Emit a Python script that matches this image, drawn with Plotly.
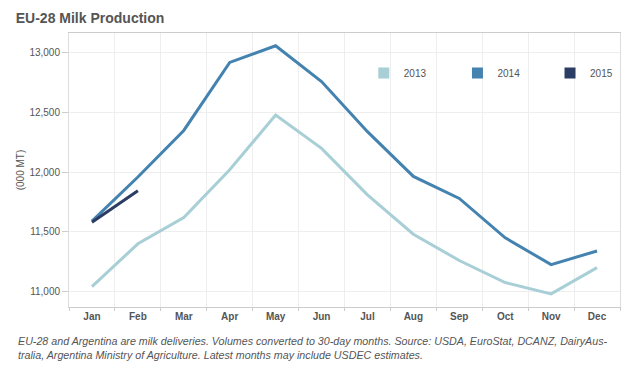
import plotly.graph_objects as go

months = ["Jan", "Feb", "Mar", "Apr", "May", "Jun", "Jul", "Aug", "Sep", "Oct", "Nov", "Dec"]
y2013 = [11040, 11400, 11620, 12020, 12480, 12200, 11810, 11480, 11260, 11075, 10980, 11200]
y2014 = [11590, 11960, 12350, 12920, 13060, 12760, 12340, 11965, 11780, 11450, 11225, 11340]
y2015 = [11580, 11845]
series = [("2013", y2013, "#a8cfd6"), ("2014", y2014, "#4483b0"), ("2015", y2015, "#2b3d64")]
legend_ids = ["legend", "legend2", "legend3"]
legend_x = [0.535, 0.705, 0.873]

fig = go.Figure()
for name, vals, col in series:
    fig.add_trace(go.Scatter(x=months[:len(vals)], y=vals, mode="lines", name=name,
                             line=dict(color=col, width=3), showlegend=False))
for (name, vals, col), lid in zip(series, legend_ids):
    fig.add_trace(go.Scatter(x=[months[0]], y=[None], mode="markers", name=name, legend=lid,
                             marker=dict(symbol="square", size=11, color=col)))

leg_common = dict(y=0.854, xanchor="left", yanchor="middle", itemwidth=30,
                  font=dict(size=10, color="#555"), bgcolor="rgba(0,0,0,0)")

fig.update_layout(
    width=630, height=368,
    margin=dict(l=69, r=10, t=33, b=61),
    paper_bgcolor="white", plot_bgcolor="white",
    font=dict(family="Arial, Liberation Sans, sans-serif", color="#555", size=10),
    title=dict(text="<b>EU-28 Milk Production</b>", x=0.025, xanchor="left", y=0.95, yanchor="middle",
               font=dict(size=14, color="#555")),
    legend=dict(x=legend_x[0], **leg_common),
    legend2=dict(x=legend_x[1], **leg_common),
    legend3=dict(x=legend_x[2], **leg_common),
    xaxis=dict(type="category", range=[-0.5, 11.5], tickson="boundaries", ticks="outside",
               ticklen=3, tickcolor="#ccc", showgrid=True, gridcolor="#eee",
               showline=True, linecolor="#ccc", mirror=True,
               tickfont=dict(size=10, color="#555", family="Arial, Liberation Sans, sans-serif"),
               tickprefix="<b>", ticksuffix="</b>"),
    yaxis=dict(range=[10870, 13167], tickvals=[11000, 11500, 12000, 12500, 13000],
               tickformat=",d", ticks="outside", ticklen=6, tickcolor="#ccc",
               showgrid=True, gridcolor="#eee", zeroline=False,
               showline=True, linecolor="#ddd", mirror=True,
               title=dict(text="(000 MT)", font=dict(size=10, color="#555"), standoff=2),
               tickfont=dict(size=10, color="#555")),
    annotations=[dict(text="<i>EU-28 and Argentina are milk deliveries. Volumes converted to 30-day months. Source: USDA, EuroStat, DCANZ, DairyAus-<br>tralia, Argentina Ministry of Agriculture. Latest months may include USDEC estimates.</i>",
                      xref="paper", yref="paper", x=-0.096, y=-0.095, xanchor="left", yanchor="top",
                      align="left", showarrow=False, font=dict(size=10.7, color="#555"))],
)

fig.write_html("out.html", config={"displayModeBar": False},
               post_script="document.body.style.margin='0px';")
